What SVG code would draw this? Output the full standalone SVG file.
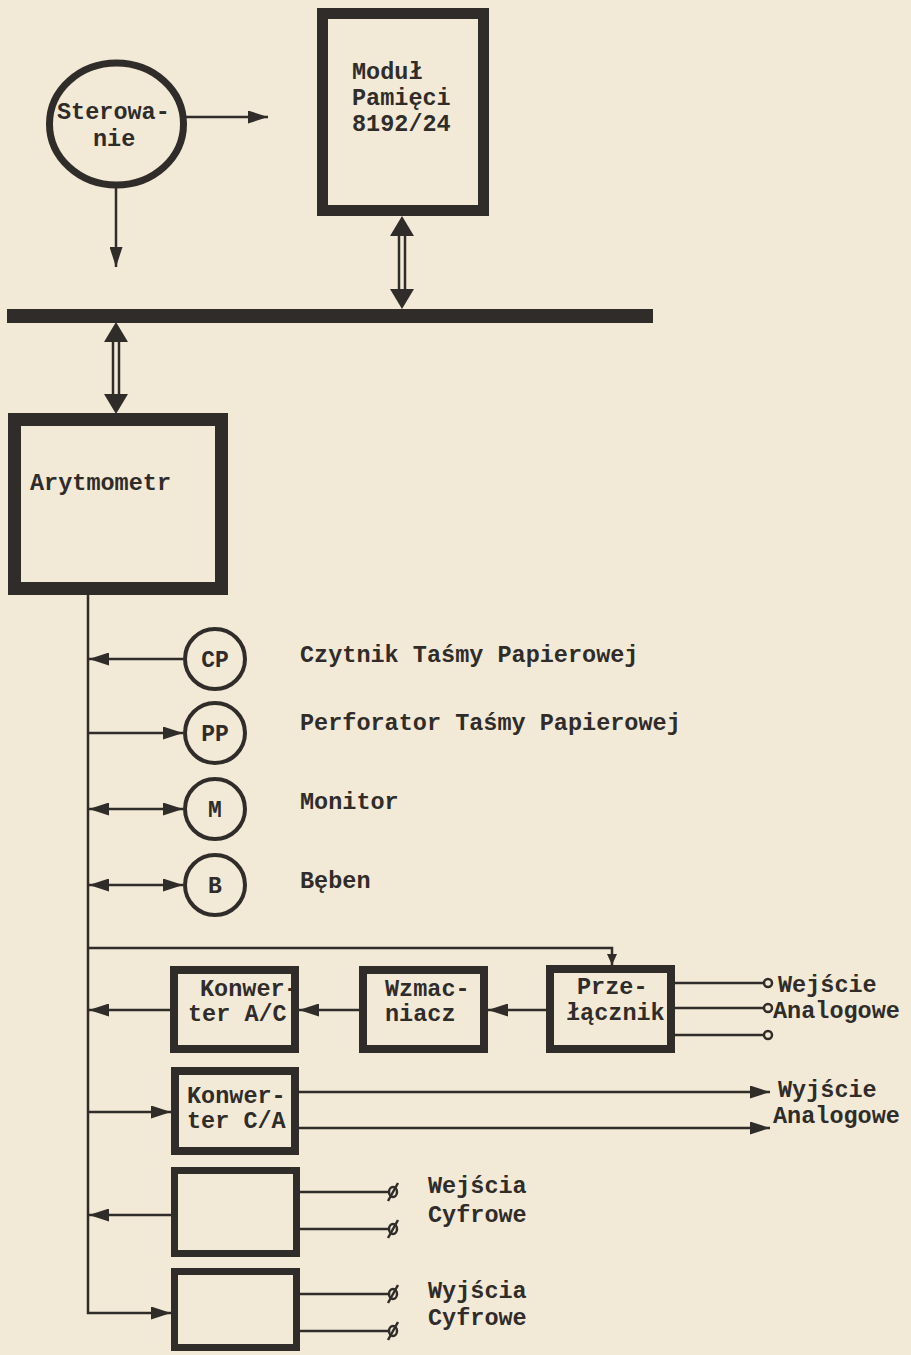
<svg xmlns="http://www.w3.org/2000/svg" width="911" height="1355" viewBox="0 0 911 1355">
<defs>
<style>
.t{font-family:"Liberation Mono","DejaVu Sans Mono",monospace;font-size:23.5px;font-weight:bold;fill:#302c29}
.tc{font-family:"Liberation Mono","DejaVu Sans Mono",monospace;font-size:23px;font-weight:bold;fill:#302c29;text-anchor:middle}
.ln{stroke:#302c29;stroke-width:2.5;fill:none}
.box{fill:none;stroke:#302c29}
.ink{fill:#302c29}
</style>
<marker id="ah" markerUnits="userSpaceOnUse" markerWidth="20" markerHeight="13" refX="20" refY="6.5" orient="auto-start-reverse"><path d="M0,0 L20,6.5 L0,13 z" fill="#302c29"/></marker>
<marker id="ahs" markerUnits="userSpaceOnUse" markerWidth="11" markerHeight="10" refX="11" refY="5" orient="auto"><path d="M0,0 L11,5 L0,10 z" fill="#302c29"/></marker>
</defs>
<rect width="911" height="1355" fill="#f2ead7"/>

<g id="connectors">
  <line class="ln" x1="186" y1="117" x2="268" y2="117" marker-end="url(#ah)"/>
  <line class="ln" x1="116" y1="188" x2="116" y2="267" marker-end="url(#ah)"/>
  <line class="ln" x1="399" y1="232" x2="399" y2="292"/>
  <line class="ln" x1="405" y1="232" x2="405" y2="292"/>
  <polygon class="ink" points="402,216 390,236 414,236"/>
  <polygon class="ink" points="402,309 390,289 414,289"/>
  <line class="ln" x1="113" y1="338" x2="113" y2="398"/>
  <line class="ln" x1="119" y1="338" x2="119" y2="398"/>
  <polygon class="ink" points="116,322 104,342 128,342"/>
  <polygon class="ink" points="116,414 104,394 128,394"/>
  <path class="ln" d="M88,595 V1313 H171" marker-end="url(#ah)"/>
  <line class="ln" x1="183" y1="659" x2="89" y2="659" marker-end="url(#ah)"/>
  <line class="ln" x1="88" y1="733" x2="183" y2="733" marker-end="url(#ah)"/>
  <line class="ln" x1="89" y1="809" x2="183" y2="809" marker-start="url(#ah)" marker-end="url(#ah)"/>
  <line class="ln" x1="89" y1="885" x2="183" y2="885" marker-start="url(#ah)" marker-end="url(#ah)"/>
  <path class="ln" d="M88,948 H612 V965" marker-end="url(#ahs)"/>
  <line class="ln" x1="546" y1="1010" x2="488" y2="1010" marker-end="url(#ah)"/>
  <line class="ln" x1="359" y1="1010" x2="299" y2="1010" marker-end="url(#ah)"/>
  <line class="ln" x1="170" y1="1010" x2="89" y2="1010" marker-end="url(#ah)"/>
  <line class="ln" x1="675" y1="983" x2="764" y2="983"/>
  <line class="ln" x1="675" y1="1008" x2="764" y2="1008"/>
  <line class="ln" x1="675" y1="1035" x2="764" y2="1035"/>
  <circle cx="768" cy="983" r="4" fill="#f2ead7" stroke="#302c29" stroke-width="2.5"/>
  <circle cx="768" cy="1008" r="4" fill="#f2ead7" stroke="#302c29" stroke-width="2.5"/>
  <circle cx="768" cy="1035" r="4" fill="#f2ead7" stroke="#302c29" stroke-width="2.5"/>
  <line class="ln" x1="88" y1="1112" x2="171" y2="1112" marker-end="url(#ah)"/>
  <line class="ln" x1="299" y1="1092" x2="770" y2="1092" marker-end="url(#ah)"/>
  <line class="ln" x1="299" y1="1128" x2="770" y2="1128" marker-end="url(#ah)"/>
  <line class="ln" x1="171" y1="1215" x2="89" y2="1215" marker-end="url(#ah)"/>
  <line class="ln" x1="300" y1="1192" x2="389" y2="1192"/>
  <line class="ln" x1="300" y1="1229" x2="389" y2="1229"/>
  <ellipse cx="393" cy="1192" rx="4" ry="5" fill="none" stroke="#302c29" stroke-width="2.5"/>
  <line class="ln" x1="388" y1="1201" x2="398" y2="1183"/>
  <ellipse cx="393" cy="1229" rx="4" ry="5" fill="none" stroke="#302c29" stroke-width="2.5"/>
  <line class="ln" x1="388" y1="1238" x2="398" y2="1220"/>
  <line class="ln" x1="300" y1="1294" x2="389" y2="1294"/>
  <line class="ln" x1="300" y1="1331" x2="389" y2="1331"/>
  <ellipse cx="393" cy="1294" rx="4" ry="5" fill="none" stroke="#302c29" stroke-width="2.5"/>
  <line class="ln" x1="388" y1="1303" x2="398" y2="1285"/>
  <ellipse cx="393" cy="1331" rx="4" ry="5" fill="none" stroke="#302c29" stroke-width="2.5"/>
  <line class="ln" x1="388" y1="1340" x2="398" y2="1322"/>
</g>

<g id="bus">
  <rect x="7" y="309" width="646" height="14" class="ink"/>
</g>

<g id="sterowanie">
  <ellipse cx="116.5" cy="124" rx="67" ry="61" class="box" stroke-width="7"/>
  <text class="t" x="57" y="119">Sterowa-</text>
  <text class="t" x="93" y="146">nie</text>
</g>

<g id="modul">
  <rect x="322.5" y="13.5" width="161" height="197" class="box" stroke-width="11"/>
  <text class="t" x="352" y="79">Moduł</text>
  <text class="t" x="352" y="105">Pamięci</text>
  <text class="t" x="352" y="131">8192/24</text>
</g>

<g id="arytmometr">
  <rect x="14.5" y="419.5" width="207" height="169" class="box" stroke-width="13"/>
  <text class="t" x="30" y="490">Arytmometr</text>
</g>

<g id="cp">
  <circle cx="215" cy="659" r="30" class="box" stroke-width="4"/>
  <text class="tc" x="215" y="667">CP</text>
  <text class="t" x="300" y="662">Czytnik Taśmy Papierowej</text>
</g>
<g id="pp">
  <circle cx="215" cy="733" r="30" class="box" stroke-width="4"/>
  <text class="tc" x="215" y="741">PP</text>
  <text class="t" x="300" y="730">Perforator Taśmy Papierowej</text>
</g>
<g id="m">
  <circle cx="215" cy="809" r="30" class="box" stroke-width="4"/>
  <text class="tc" x="215" y="817">M</text>
  <text class="t" x="300" y="809">Monitor</text>
</g>
<g id="b">
  <circle cx="215" cy="885" r="30" class="box" stroke-width="4"/>
  <text class="tc" x="215" y="893">B</text>
  <text class="t" x="300" y="888">Bęben</text>
</g>

<g id="konwerter-ac">
  <rect x="174" y="970" width="121" height="79" class="box" stroke-width="8"/>
  <text class="t" x="200" y="996">Konwer-</text>
  <text class="t" x="188" y="1021">ter A/C</text>
</g>
<g id="wzmacniacz">
  <rect x="363" y="970" width="121" height="79" class="box" stroke-width="8"/>
  <text class="t" x="385" y="996">Wzmac-</text>
  <text class="t" x="385" y="1021">niacz</text>
</g>
<g id="przelacznik">
  <rect x="550" y="969" width="121" height="80" class="box" stroke-width="8"/>
  <text class="t" x="577" y="994">Prze-</text>
  <text class="t" x="566" y="1020">łącznik</text>
</g>
<g id="wejscie-analogowe">
  <text class="t" x="778" y="992">Wejście</text>
  <text class="t" x="773" y="1018">Analogowe</text>
</g>
<g id="konwerter-ca">
  <rect x="175" y="1071" width="120" height="80" class="box" stroke-width="8"/>
  <text class="t" x="187" y="1103">Konwer-</text>
  <text class="t" x="187" y="1128">ter C/A</text>
</g>
<g id="wyjscie-analogowe">
  <text class="t" x="778" y="1097">Wyjście</text>
  <text class="t" x="773" y="1123">Analogowe</text>
</g>
<g id="wejscia-cyfrowe">
  <rect x="174.5" y="1170.5" width="122" height="83" class="box" stroke-width="7"/>
  <text class="t" x="428" y="1193">Wejścia</text>
  <text class="t" x="428" y="1222">Cyfrowe</text>
</g>
<g id="wyjscia-cyfrowe">
  <rect x="174.5" y="1271.5" width="122" height="76" class="box" stroke-width="7"/>
  <text class="t" x="428" y="1298">Wyjścia</text>
  <text class="t" x="428" y="1325">Cyfrowe</text>
</g>
</svg>
